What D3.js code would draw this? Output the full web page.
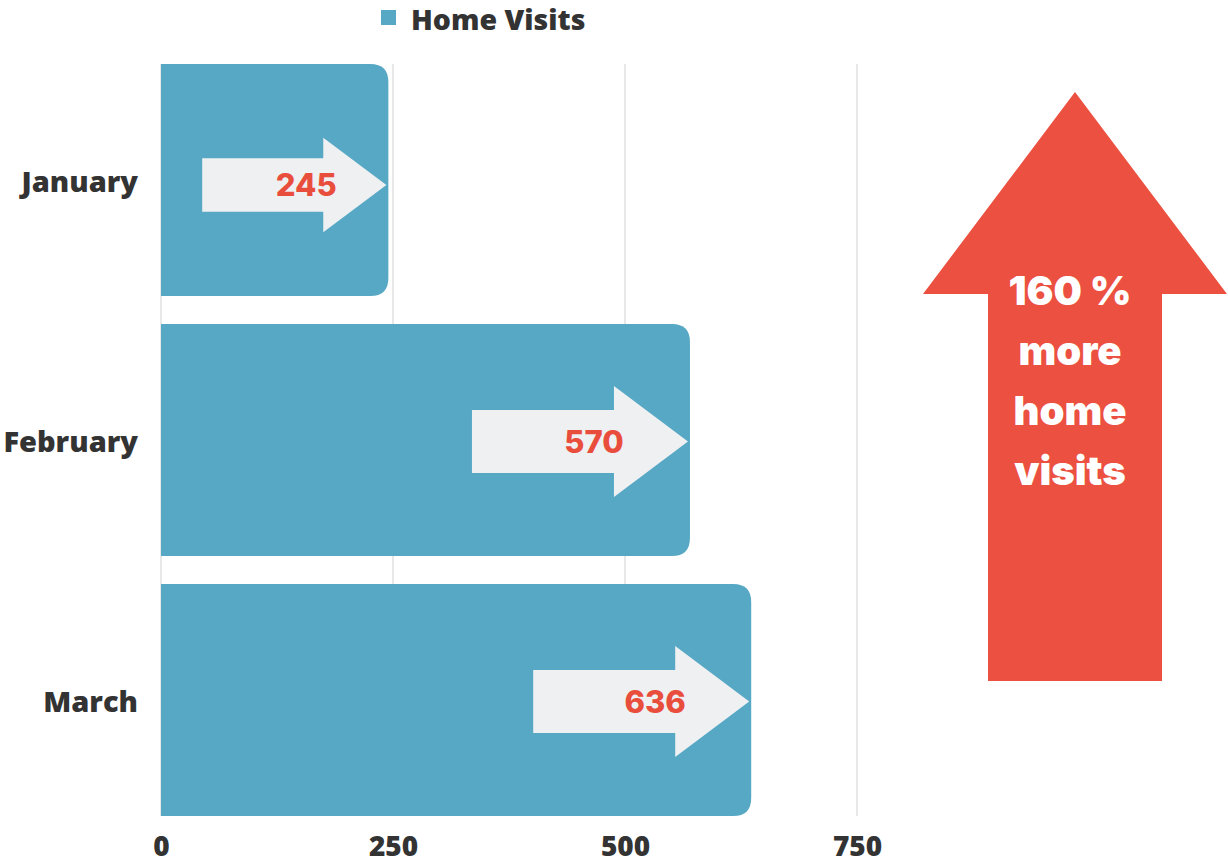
<!DOCTYPE html>
<html>
<head>
<meta charset="utf-8">
<script src="https://cdn.jsdelivr.net/npm/d3@7"></script>
<style>
  html, body { margin: 0; padding: 0; background: #fff; }
  svg { display: block; }
  .tick text { font-family: "Open Sans", sans-serif; font-weight: 800; fill: #333; }
</style>
</head>
<body>
<div id="chart"></div>
<script>
var categories = ['January', 'February', 'March'];
var homeVisits = [245, 570, 636];
var xTicks = [0, 250, 500, 750];
var seriesName = 'Home Visits';

var width = 1228, height = 865;
var barColor = '#57a8c5';
var red = '#ec5040';

var svg = d3.select('#chart').append('svg')
  .attr('width', width)
  .attr('height', height);

var x = d3.scaleLinear().domain([0, 750]).range([161, 857]);
var y = d3.scaleBand().domain(categories).range([50, 830])
  .paddingInner(0.1077).paddingOuter(0.0538);

var plotTop = y(categories[0]);
var plotBottom = y(categories[categories.length - 1]) + y.bandwidth();

// gridlines
svg.append('g')
  .selectAll('line')
  .data(xTicks)
  .enter()
  .append('line')
  .attr('x1', function(d) { return x(d); })
  .attr('x2', function(d) { return x(d); })
  .attr('y1', plotTop)
  .attr('y2', plotBottom)
  .attr('stroke', '#d0d0d0')
  .attr('stroke-width', 1);

// x axis labels
var xAxis = d3.axisBottom(x).tickValues(xTicks).tickSize(0).tickPadding(0);
svg.append('g')
  .attr('transform', 'translate(0,' + 856 + ')')
  .call(xAxis)
  .call(function(g) { g.select('.domain').remove(); })
  .selectAll('text')
  .attr('dy', '0')
  .style('font-size', '28px');

// category labels
svg.append('g')
  .selectAll('text')
  .data(categories)
  .enter()
  .append('text')
  .attr('x', 138)
  .attr('y', function(d) { return y(d) + y.bandwidth() / 2 + 2; })
  .attr('dy', '0.35em')
  .attr('text-anchor', 'end')
  .style('font-family', '"Open Sans", sans-serif')
  .style('font-weight', 800)
  .style('font-size', '29px')
  .style('fill', '#333')
  .text(function(d) { return d; });

function barPath(x0, y0, w, h, r) {
  r = Math.min(r, w);
  return 'M' + x0 + ',' + y0 +
    'H' + (x0 + w - r) +
    'Q' + (x0 + w) + ',' + y0 + ' ' + (x0 + w) + ',' + (y0 + r) +
    'V' + (y0 + h - r) +
    'Q' + (x0 + w) + ',' + (y0 + h) + ' ' + (x0 + w - r) + ',' + (y0 + h) +
    'H' + x0 + 'Z';
}

var rows = categories.map(function(c, i) { return { name: c, value: homeVisits[i] }; });

svg.append('g')
  .selectAll('path')
  .data(rows)
  .enter()
  .append('path')
  .attr('d', function(d) {
    return barPath(x(0), y(d.name), x(d.value) - x(0), y.bandwidth(), 18);
  })
  .attr('fill', barColor);

// arrows in bars
function arrowPath(tip, cy, s) {
  var shaftLen = 142 * s, headLen = 74 * s;
  var shaftH = 63 * s / 2, headH = 111 * s / 2;
  var tail = tip - shaftLen - headLen, neck = tip - headLen;
  return 'M' + tail + ',' + (cy - shaftH) +
    'L' + neck + ',' + (cy - shaftH) +
    'L' + neck + ',' + (cy - headH) +
    'L' + tip + ',' + cy +
    'L' + neck + ',' + (cy + headH) +
    'L' + neck + ',' + (cy + shaftH) +
    'L' + tail + ',' + (cy + shaftH) + 'Z';
}

var arrows = svg.append('g')
  .selectAll('g')
  .data(rows)
  .enter()
  .append('g');

arrows.each(function(d) {
  var barW = x(d.value) - x(0);
  var s = Math.min(216, 0.81 * barW) / 216;
  var tip = x(d.value) - 2;
  var cy = y(d.name) + y.bandwidth() / 2 + (s < 1 ? 5 : 1.5);
  var g = d3.select(this);
  g.append('path')
    .attr('d', arrowPath(tip, cy, s))
    .attr('fill', '#eff0f2');
  g.append('text')
    .attr('x', tip - 94 * s)
    .attr('y', cy)
    .attr('dy', '0.36em')
    .attr('text-anchor', 'middle')
    .style('font-family', 'Inter, sans-serif')
    .style('font-weight', 800)
    .style('font-size', '31px')
    .style('fill', '#e94e3d')
    .text(d.value);
});

// legend
var legend = svg.append('g');
legend.append('rect')
  .attr('x', 381).attr('y', 10)
  .attr('width', 15).attr('height', 15)
  .attr('fill', barColor);
legend.append('text')
  .attr('x', 411).attr('y', 30)
  .style('font-family', '"Open Sans", sans-serif')
  .style('font-weight', 800)
  .style('font-size', '28.5px')
  .style('fill', '#333')
  .text(seriesName);

// big up arrow annotation
var growth = Math.round((homeVisits[homeVisits.length - 1] - homeVisits[0]) / homeVisits[0] * 100);
var ax = 1075, aTop = 92, aNeck = 294, aBottom = 681, headHalf = 152, shaftHalf = 87;
svg.append('path')
  .attr('d', 'M' + ax + ',' + aTop +
    'L' + (ax + headHalf) + ',' + aNeck +
    'L' + (ax + shaftHalf) + ',' + aNeck +
    'L' + (ax + shaftHalf) + ',' + aBottom +
    'L' + (ax - shaftHalf) + ',' + aBottom +
    'L' + (ax - shaftHalf) + ',' + aNeck +
    'L' + (ax - headHalf) + ',' + aNeck + 'Z')
  .attr('fill', red);

var lines = [growth + ' %', 'more', 'home', 'visits'];
svg.append('g')
  .selectAll('text')
  .data(lines)
  .enter()
  .append('text')
  .attr('x', 1070)
  .attr('y', function(d, i) { return 291 + i * 60; })
  .attr('dy', '0.36em')
  .attr('text-anchor', 'middle')
  .style('font-family', 'Inter, sans-serif')
  .style('font-weight', 900)
  .style('font-size', '40px')
  .style('fill', '#fff')
  .text(function(d) { return d; });
</script>
</body>
</html>
